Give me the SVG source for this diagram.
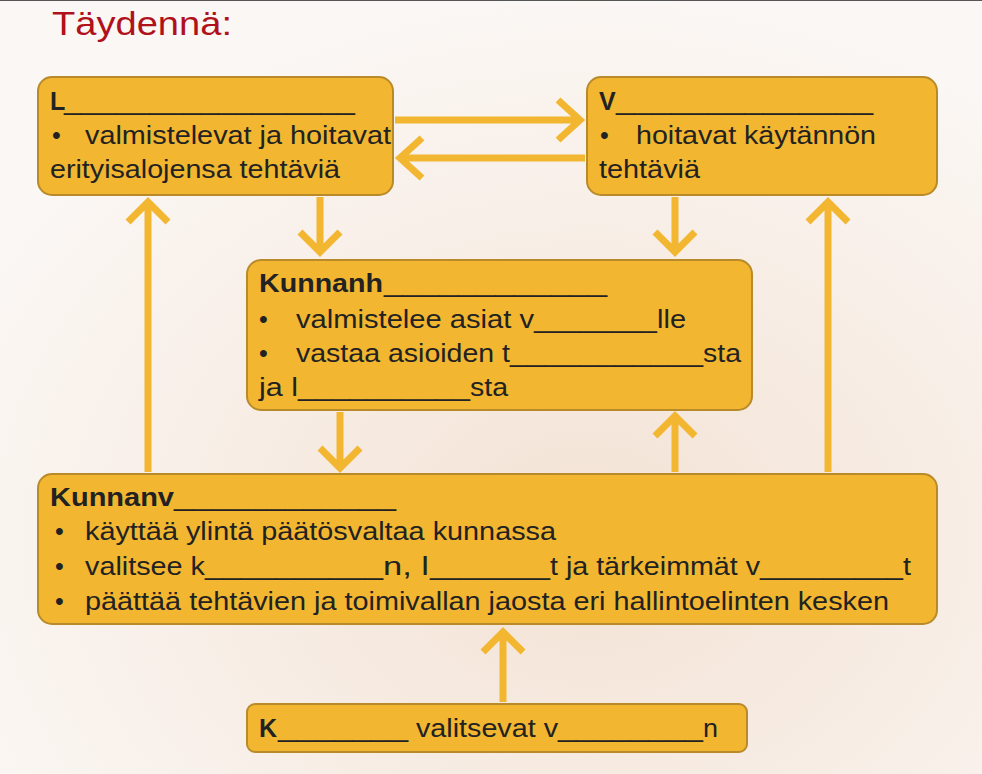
<svg xmlns="http://www.w3.org/2000/svg" width="982" height="774" viewBox="0 0 982 774">
<defs>
<radialGradient id="bg" cx="0.6" cy="0.7" r="0.7">
<stop offset="0" stop-color="#f3e2d4"/><stop offset="1" stop-color="#fbf7f4"/>
</radialGradient>
</defs>
<style>
.box{fill:#f2b630;stroke:#b98a2a;stroke-width:2}
.t{font-family:"Liberation Sans",Arial,sans-serif;font-size:25px;fill:#222}
.b{font-weight:bold}
.ar{fill:none;stroke:#f2b630;stroke-width:7;stroke-linecap:butt;stroke-linejoin:miter}
</style>
<rect width="982" height="774" fill="url(#bg)"/>
<line x1="0" y1="0.5" x2="982" y2="0.5" stroke="#555" stroke-width="1"/>
<text x="52" y="35" font-family="Liberation Sans,Arial,sans-serif" font-size="34" fill="#b0121b" textLength="180" lengthAdjust="spacingAndGlyphs">Täydennä:</text>
<g id="connectors" class="ar">
<path d="M395 120H580M558 100L580 120L558 140"/>
<path d="M585 158H400M422 138L400 158L422 178"/>
<path d="M320 197V252M300 232L320 252L340 232"/>
<path d="M675 197V252M655 232L675 252L695 232"/>
<path d="M340 412V468M320 448L340 468L360 448"/>
<path d="M675 472V416M655 436L675 416L695 436"/>
<path d="M148 472V202M128 222L148 202L168 222"/>
<path d="M828 472V202M808 222L828 202L848 222"/>
<path d="M503 702V632M483 652L503 632L523 652"/>
</g>
<g id="nodeL">
<rect class="box" x="38" y="77" width="355" height="118" rx="14"/>
<text class="t"><tspan class="b" x="50" y="110">L</tspan><tspan x="64" y="110" textLength="291" lengthAdjust="spacingAndGlyphs">_________________</tspan></text>
<text class="t"><tspan x="52" y="144">•</tspan><tspan x="85" y="144" textLength="306" lengthAdjust="spacingAndGlyphs">valmistelevat ja hoitavat</tspan></text>
<text class="t" x="50" y="178" textLength="290" lengthAdjust="spacingAndGlyphs">erityisalojensa tehtäviä</text>
</g>
<g id="nodeV">
<rect class="box" x="587" y="77" width="350" height="118" rx="14"/>
<text class="t"><tspan class="b" x="599" y="110">V</tspan><tspan x="616" y="110" textLength="257" lengthAdjust="spacingAndGlyphs">______________</tspan></text>
<text class="t"><tspan x="600" y="144">•</tspan><tspan x="636" y="144" textLength="240" lengthAdjust="spacingAndGlyphs">hoitavat käytännön</tspan></text>
<text class="t" x="599" y="178" textLength="101" lengthAdjust="spacingAndGlyphs">tehtäviä</text>
</g>
<g id="nodeKunnanh">
<rect class="box" x="247" y="260" width="505" height="150" rx="14"/>
<text class="t"><tspan class="b" x="259" y="292" textLength="124" lengthAdjust="spacingAndGlyphs">Kunnanh</tspan><tspan x="384" y="292" textLength="223" lengthAdjust="spacingAndGlyphs">____________</tspan></text>
<text class="t"><tspan x="259" y="328">•</tspan><tspan x="296" y="328" textLength="238" lengthAdjust="spacingAndGlyphs">valmistelee asiat v</tspan><tspan x="534" y="328" textLength="123" lengthAdjust="spacingAndGlyphs">________</tspan><tspan x="657" y="328" textLength="29" lengthAdjust="spacingAndGlyphs">lle</tspan></text>
<text class="t"><tspan x="259" y="362">•</tspan><tspan x="296" y="362" textLength="214" lengthAdjust="spacingAndGlyphs">vastaa asioiden t</tspan><tspan x="510" y="362" textLength="193" lengthAdjust="spacingAndGlyphs">___________</tspan><tspan x="703" y="362" textLength="38" lengthAdjust="spacingAndGlyphs">sta</tspan></text>
<text class="t"><tspan x="259" y="396" textLength="39" lengthAdjust="spacingAndGlyphs">ja l</tspan><tspan x="298" y="396" textLength="172" lengthAdjust="spacingAndGlyphs">__________</tspan><tspan x="470" y="396" textLength="38" lengthAdjust="spacingAndGlyphs">sta</tspan></text>
</g>
<g id="nodeKunnanv">
<rect class="box" x="38" y="474" width="899" height="150" rx="14"/>
<text class="t"><tspan class="b" x="50" y="506" textLength="124" lengthAdjust="spacingAndGlyphs">Kunnanv</tspan><tspan x="174" y="506" textLength="222" lengthAdjust="spacingAndGlyphs">____________</tspan></text>
<text class="t"><tspan x="55" y="540">•</tspan><tspan x="85" y="540" textLength="471" lengthAdjust="spacingAndGlyphs">käyttää ylintä päätösvaltaa kunnassa</tspan></text>
<text class="t"><tspan x="55" y="575">•</tspan><tspan x="85" y="575" textLength="120" lengthAdjust="spacingAndGlyphs">valitsee k</tspan><tspan x="205" y="575" textLength="178" lengthAdjust="spacingAndGlyphs">__________</tspan><tspan x="383" y="575" textLength="46" lengthAdjust="spacingAndGlyphs">n, l</tspan><tspan x="430" y="575" textLength="120" lengthAdjust="spacingAndGlyphs">________</tspan><tspan x="550" y="575" textLength="210" lengthAdjust="spacingAndGlyphs">t ja tärkeimmät v</tspan><tspan x="760" y="575" textLength="143" lengthAdjust="spacingAndGlyphs">_________</tspan><tspan x="903" y="575" textLength="8" lengthAdjust="spacingAndGlyphs">t</tspan></text>
<text class="t"><tspan x="55" y="610">•</tspan><tspan x="85" y="610" textLength="804" lengthAdjust="spacingAndGlyphs">päättää tehtävien ja toimivallan jaosta eri hallintoelinten kesken</tspan></text>
</g>
<g id="nodeK">
<rect class="box" x="247" y="704" width="500" height="48" rx="8"/>
<text class="t"><tspan class="b" x="259" y="737">K</tspan><tspan x="278" y="737" textLength="130" lengthAdjust="spacingAndGlyphs">_______</tspan><tspan x="416" y="737" textLength="142" lengthAdjust="spacingAndGlyphs">valitsevat v</tspan><tspan x="558" y="737" textLength="145" lengthAdjust="spacingAndGlyphs">________</tspan><tspan x="703" y="737" textLength="15" lengthAdjust="spacingAndGlyphs">n</tspan></text>
</g>
</svg>
